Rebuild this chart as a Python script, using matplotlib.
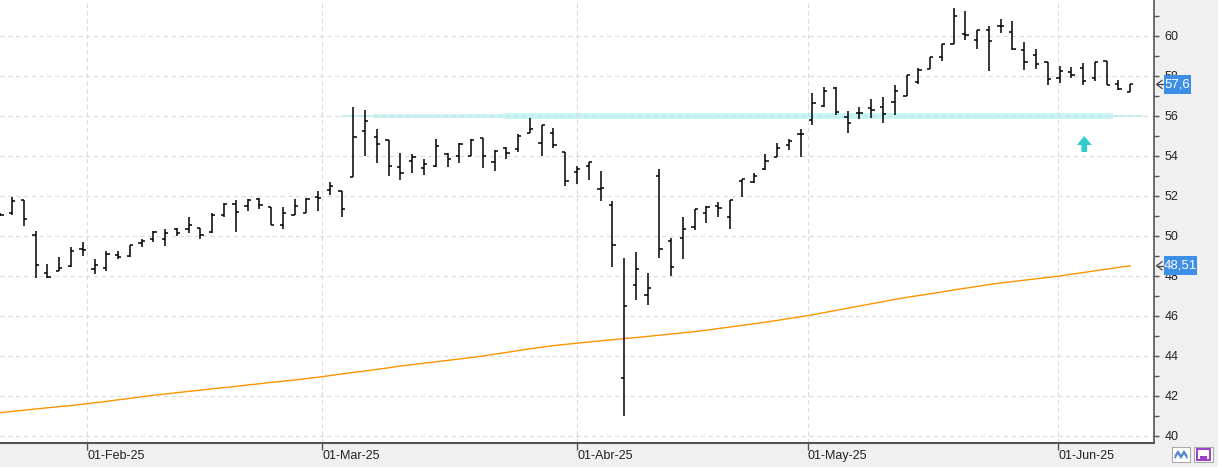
import numpy as np
import pandas as pd
import matplotlib
matplotlib.use('Agg')
import matplotlib.pyplot as plt
from matplotlib.ticker import MultipleLocator
from matplotlib.patches import Rectangle, Polygon
from matplotlib.lines import Line2D
from matplotlib.transforms import blended_transform_factory

plt.rcParams['font.family'] = ['Liberation Sans', 'DejaVu Sans']

# trading days shown (exchange closed 18-Apr, 21-Apr, 01-May)
days = pd.bdate_range('2025-01-22', '2025-06-10')
days = days.drop(pd.to_datetime(['2025-04-18', '2025-04-21', '2025-05-01']))

opens = [51.07, 51.13, 51.80, 50.03, 48.13, 48.25, 48.48, 49.33, 48.35, 48.38,
         49.03, 48.98, 49.63, 49.83, 49.83, 50.37, 50.33, 50.38, 50.22, 51.03,
         51.58, 51.50, 51.83, 51.43, 50.53, 51.03, 51.13, 51.97, 52.30, 52.25,
         52.97, 55.23, 54.93, 54.78, 53.43, 53.73, 53.42, 53.52, 54.10, 54.00,
         54.00, 54.88, 53.70, 54.38, 54.33, 55.13, 54.65, 55.17, 54.22, 53.18,
         53.50, 52.33, 51.53, 42.88, 47.53, 47.03, 53.00, 49.75, 49.88, 50.43,
         51.13, 51.48, 50.97, 52.77, 52.72, 53.33, 53.97, 54.57, 55.08, 55.80,
         56.50, 57.40, 55.93, 56.17, 56.42, 56.43, 56.68, 57.00, 57.68, 58.33,
         58.97, 59.60, 60.10, 59.80, 60.30, 60.50, 60.20, 59.30, 59.07, 58.72,
         57.90, 58.18, 58.38, 57.90, 58.73, 57.58, 57.20]
highs = [51.15, 51.97, 51.80, 50.25, 48.58, 48.93, 49.45, 49.70, 48.85, 49.25,
         49.25, 49.53, 49.83, 50.25, 50.35, 50.42, 50.93, 50.42, 51.13, 51.63,
         51.80, 51.85, 51.92, 51.43, 51.43, 51.83, 51.92, 52.25, 52.72, 52.25,
         56.47, 56.30, 55.35, 54.80, 54.13, 54.10, 53.83, 54.85, 54.13, 54.67,
         54.85, 54.88, 54.30, 54.47, 55.08, 55.92, 55.55, 55.40, 54.22, 53.50,
         53.70, 53.25, 51.75, 48.90, 49.18, 48.13, 53.33, 49.88, 50.95, 51.33,
         51.50, 51.68, 51.80, 52.83, 53.13, 54.08, 54.63, 54.83, 55.33, 57.13,
         57.43, 57.43, 56.25, 56.43, 56.85, 56.93, 57.55, 58.03, 58.38, 58.97,
         59.60, 61.40, 61.25, 60.30, 60.50, 60.85, 60.75, 59.68, 59.33, 58.72,
         58.52, 58.47, 58.63, 58.70, 58.73, 57.80, 57.58]
lows = [51.00, 51.07, 50.52, 47.92, 47.92, 48.25, 48.45, 49.02, 48.12, 48.25,
        48.83, 48.97, 49.47, 49.72, 49.52, 50.02, 50.13, 49.83, 50.13, 50.93,
        50.22, 51.23, 51.33, 50.53, 50.33, 51.03, 51.13, 51.27, 52.05, 50.93,
        52.93, 54.02, 53.67, 53.02, 52.80, 53.13, 53.07, 53.47, 53.47, 53.67,
        54.00, 53.42, 53.27, 53.87, 54.22, 55.13, 54.02, 54.38, 52.52, 52.62,
        52.82, 51.77, 48.47, 41.00, 46.80, 46.57, 48.92, 48.02, 48.87, 50.32,
        50.63, 50.93, 50.33, 51.97, 52.63, 53.30, 53.97, 54.30, 53.97, 55.57,
        56.47, 56.05, 55.13, 55.83, 55.88, 55.63, 56.05, 57.00, 57.62, 58.33,
        58.77, 59.60, 59.82, 59.37, 58.23, 60.13, 59.30, 58.30, 58.37, 57.57,
        57.67, 57.88, 57.57, 57.73, 57.53, 57.30, 57.18]
closes = [51.07, 51.75, 50.83, 48.53, 47.93, 48.38, 49.25, 49.30, 48.53, 49.10,
          48.93, 49.53, 49.73, 50.22, 50.13, 50.15, 50.55, 50.05, 51.05, 51.58,
          51.18, 51.80, 51.53, 50.53, 51.13, 51.50, 51.87, 51.92, 52.50, 51.35,
          54.97, 55.75, 54.60, 53.48, 53.15, 53.93, 53.60, 54.50, 53.83, 54.60,
          54.80, 54.00, 54.27, 54.15, 55.02, 55.33, 55.53, 54.55, 52.75, 53.33,
          53.68, 52.38, 49.53, 46.50, 48.35, 47.38, 49.35, 48.45, 50.33, 51.33,
          51.47, 51.42, 51.80, 52.83, 52.98, 53.73, 54.38, 54.75, 55.10, 56.63,
          57.27, 56.18, 55.63, 56.13, 56.30, 56.08, 57.27, 58.03, 58.32, 58.97,
          59.60, 61.00, 60.05, 60.30, 59.73, 60.50, 59.33, 58.70, 58.60, 57.83,
          58.25, 58.03, 57.75, 58.70, 57.53, 57.33, 57.58]

# long moving average (orange line)
ma = [41.17, 41.23, 41.29, 41.35, 41.41, 41.47, 41.52, 41.59, 41.66, 41.73,
      41.81, 41.88, 41.96, 42.04, 42.10, 42.17, 42.23, 42.29, 42.36, 42.42,
      42.48, 42.55, 42.61, 42.68, 42.74, 42.80, 42.87, 42.94, 43.02, 43.10,
      43.18, 43.25, 43.33, 43.41, 43.50, 43.57, 43.64, 43.71, 43.78, 43.85,
      43.92, 44.00, 44.09, 44.18, 44.27, 44.36, 44.44, 44.52, 44.58, 44.64,
      44.70, 44.76, 44.81, 44.87, 44.92, 44.98, 45.04, 45.10, 45.16, 45.22,
      45.29, 45.37, 45.45, 45.53, 45.61, 45.69, 45.78, 45.87, 45.96, 46.06,
      46.17, 46.28, 46.39, 46.50, 46.61, 46.72, 46.83, 46.93, 47.02, 47.11,
      47.20, 47.30, 47.39, 47.48, 47.57, 47.65, 47.72, 47.79, 47.86, 47.93,
      48.00, 48.09, 48.17, 48.26, 48.34, 48.43, 48.51]

month_ticks = [7.4, 27.35, 49.0, 68.6, 89.9]
month_labels = ['01-Feb-25', '01-Mar-25', '01-Abr-25', '01-May-25', '01-Jun-25']

support = 56.0
# (start, end, half thickness) of the highlighted support band
band_parts = [(28.95, 31.7, 0.05), (31.7, 42.7, 0.08), (42.7, 94.5, 0.14), (94.5, 97.1, 0.05)]
signal_day = 92.1

W, H = 1218, 467
fig = plt.figure(figsize=(W / 100, H / 100), dpi=100, facecolor='#f0f0f0')
ax = fig.add_axes([0, (H - 443.3) / H, 1154.3 / W, 443.3 / H])
ax.set_facecolor('white')

x = np.arange(len(days))
ax.set_xlim(-0.03, 98.05)
ax.set_ylim(39.635, 61.8)

# grid
ax.set_yticks(np.arange(40, 62, 2))
ax.yaxis.set_minor_locator(MultipleLocator(1))
ax.set_xticks(month_ticks)
ax.set_xticklabels(month_labels, ha='left')
ax.grid(True, which='major', color='#dadada', lw=0.8, ls=(0, (4, 3)), zorder=0)

# support band
for a, b, hw in band_parts:
    ax.fill_between([a, b], support - hw, support + hw, color='#c6f6f6', lw=0, zorder=1)

# moving average
ax.plot(x, ma, color='#ff9400', lw=1.0, zorder=2)

# OHLC bars
tk = 0.28
ax.vlines(x, lows, highs, color='black', lw=1.1, zorder=3)
ax.hlines(opens, x - tk, x, color='black', lw=1.1, zorder=3)
ax.hlines(closes, x, x + tk, color='black', lw=1.1, zorder=3)

# signal arrow
hw_head, hw_shaft = 0.64, 0.24
arrow = Polygon([[signal_day - hw_shaft, 54.2], [signal_day - hw_shaft, 54.55],
                 [signal_day - hw_head, 54.55], [signal_day, 55.0],
                 [signal_day + hw_head, 54.55], [signal_day + hw_shaft, 54.55],
                 [signal_day + hw_shaft, 54.2]], closed=True,
                color='#33cccc', lw=0, zorder=4)
ax.add_patch(arrow)

# axes styling
for s in ['left', 'top']:
    ax.spines[s].set_visible(False)
ax.spines['right'].set_color('#555555')
ax.spines['right'].set_linewidth(1.2)
ax.spines['bottom'].set_color('#555555')
ax.spines['bottom'].set_linewidth(1.5)
ax.yaxis.tick_right()
ax.tick_params(axis='y', which='both', length=3.6, width=1, color='#555555',
               labelsize=9, labelcolor='#222222', pad=4)
ax.tick_params(axis='x', length=5, width=1, color='#555555',
               labelsize=9, labelcolor='#222222', pad=0)
ax.tick_params(axis='y', which='minor', labelright=False)

fig.text(1165 / W, 1 + 4 / H, '62', fontsize=9, color='#222222', ha='left', va='center')

# last value labels
tr = blended_transform_factory(fig.transFigure, ax.transData)
for val, txt, wpx in [(closes[-1], '57,6', 27), (ma[-1], '48,51', 33)]:
    ax.add_patch(Rectangle((1164 / W, val - 0.47), wpx / W, 0.94, transform=tr,
                           facecolor='#3d8ee6', edgecolor='none', clip_on=False, zorder=10))
    ax.text((1164 + wpx / 2) / W, val, txt, transform=tr, color='white', fontsize=9.5,
            ha='center', va='center', clip_on=False, zorder=11)
    for xs, ys in [([1162, 1156.5, 1162], [-0.2, 0, 0.2]), ([1156.5, 1163], [0, 0])]:
        ax.add_line(Line2D([v / W for v in xs], [val + d for d in ys], transform=tr,
                           color='#444444', lw=0.9, clip_on=False, zorder=11))

# small buttons bottom right
def fx(px):
    return px / W

def fy(py):
    return 1 - py / H

fig.patches.append(Rectangle((fx(1172), fy(462)), fx(18), 15 / H, transform=fig.transFigure,
                             facecolor='white', edgecolor='#aaaaaa', lw=0.8))
fig.lines.append(Line2D([fx(v) for v in [1175, 1178, 1181, 1184, 1187]],
                        [fy(v) for v in [456, 451, 456, 451, 456]],
                        transform=fig.transFigure, color='#4a7fd0', lw=0.9))
fig.lines.append(Line2D([fx(v) for v in [1175, 1178, 1181, 1184, 1187]],
                        [fy(v) for v in [458, 453, 458, 453, 458]],
                        transform=fig.transFigure, color='#4a7fd0', lw=0.9))
fig.patches.append(Rectangle((fx(1194), fy(462)), fx(19), 15 / H, transform=fig.transFigure,
                             facecolor='white', edgecolor='#aaaaaa', lw=0.8))
fig.patches.append(Rectangle((fx(1197), fy(460)), fx(13), 11 / H, transform=fig.transFigure,
                             facecolor='white', edgecolor='#9b3fc9', lw=1.4))
fig.patches.append(Rectangle((fx(1200), fy(460)), fx(7), 4 / H, transform=fig.transFigure,
                             facecolor='#9b3fc9', edgecolor='none'))

fig.savefig('out.png', dpi=100, facecolor=fig.get_facecolor())
